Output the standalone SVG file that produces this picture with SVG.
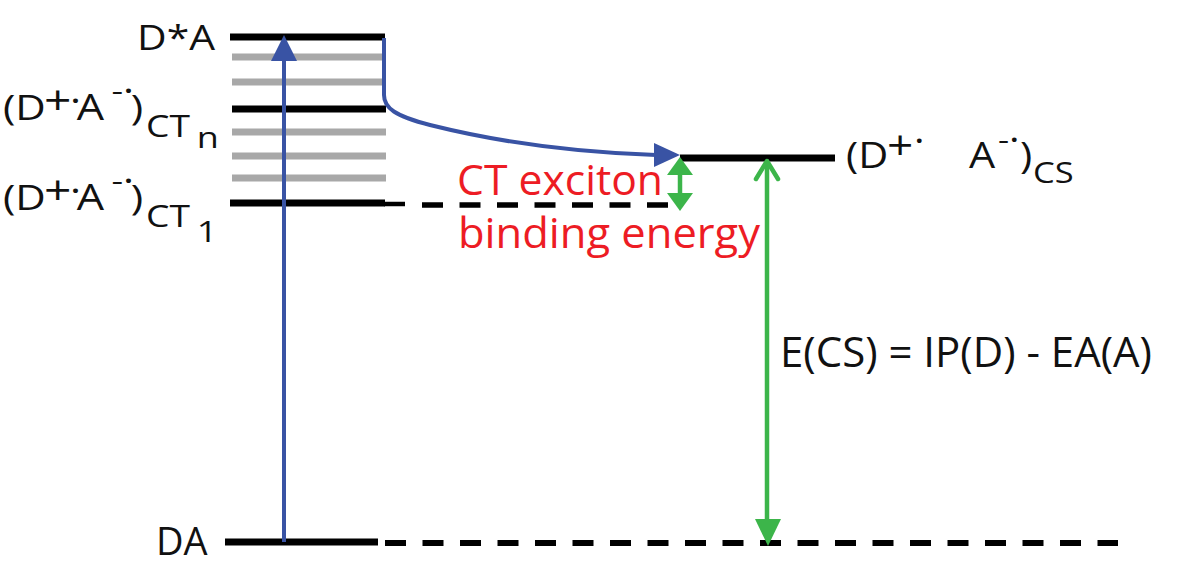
<svg xmlns="http://www.w3.org/2000/svg" width="1178" height="563" viewBox="0 0 1178 563">
<style>
text{font-family:"Open Sans","Liberation Sans",sans-serif;fill:#111}
.lvl{stroke:#000;stroke-width:7;fill:none}
.gry{stroke:#a8a8a8;stroke-width:7;fill:none}
.dash{stroke:#000;stroke-width:6;fill:none;stroke-dasharray:21 16.5}
.blue{stroke:#3953a4;stroke-width:4;fill:none}
.green{stroke:#3cb54a;stroke-width:4.5;fill:none}
.red{fill:#ed1c24}
</style>
<rect width="1178" height="563" fill="#fff"/>
<g id="levels">
<line class="lvl" x1="230" y1="37" x2="385" y2="37"/>
<line class="gry" x1="232" y1="57" x2="386" y2="57"/>
<line class="gry" x1="232" y1="82" x2="386" y2="82"/>
<line class="lvl" x1="232" y1="109" x2="386" y2="109"/>
<line class="gry" x1="232" y1="132" x2="386" y2="132"/>
<line class="gry" x1="232" y1="156" x2="386" y2="156"/>
<line class="gry" x1="232" y1="178" x2="386" y2="178"/>
<line class="lvl" x1="230" y1="203" x2="385" y2="203"/>
<line stroke="#000" stroke-width="4.5" x1="384" y1="204" x2="405" y2="204"/>
<line class="lvl" x1="225" y1="542" x2="378" y2="542"/>
<line class="lvl" x1="680" y1="158" x2="835" y2="158"/>
</g>
<g id="node-DstarA"><text x="137" y="50" font-size="35" textLength="78" lengthAdjust="spacingAndGlyphs">D*A</text></g>
<g id="node-CTn" transform="scale(1.2,1)">
<text font-size="35"><tspan x="2.5" y="120">(D</tspan><tspan x="36.7" y="115" font-size="40">+</tspan><tspan x="58.3" y="113">·</tspan><tspan x="64" y="120" font-size="36">A</tspan><tspan x="93" y="101" font-size="30">-</tspan><tspan x="102.5" y="103">·</tspan><tspan x="109" y="120">)</tspan></text>
<text font-size="31"><tspan x="121.7" y="137">CT</tspan><tspan x="164" y="148" font-size="30">n</tspan></text>
</g>
<g id="node-CT1" transform="scale(1.2,1)">
<text font-size="35"><tspan x="2.5" y="210">(D</tspan><tspan x="36.7" y="205" font-size="40">+</tspan><tspan x="58.3" y="203">·</tspan><tspan x="64" y="210" font-size="36">A</tspan><tspan x="93" y="191" font-size="30">-</tspan><tspan x="102.5" y="193">·</tspan><tspan x="109" y="210">)</tspan></text>
<text font-size="31"><tspan x="121.7" y="227">CT</tspan><tspan x="164" y="242" font-size="30">1</tspan></text>
</g>
<g id="node-CS" transform="scale(1.15,1)">
<text font-size="36"><tspan x="735.7" y="168">(D</tspan><tspan x="771.3" y="160" font-size="40">+</tspan><tspan x="794.8" y="153" font-size="35">·</tspan><tspan x="842.6" y="168">A</tspan><tspan x="867.8" y="150" font-size="30">-</tspan><tspan x="877.4" y="152" font-size="35">·</tspan><tspan x="887" y="168">)</tspan><tspan x="898.3" y="183" font-size="30">CS</tspan></text>
</g>
<g id="node-DA"><text x="156" y="555" font-size="38">DA</text></g>
<g id="label-binding">
<text class="red" x="457" y="195" font-size="42" textLength="206" lengthAdjust="spacingAndGlyphs">CT exciton</text>
<text class="red" x="458" y="248" font-size="42" textLength="302" lengthAdjust="spacingAndGlyphs">binding energy</text>
</g>
<g id="label-ECS"><text x="780" y="367" font-size="42" textLength="372" lengthAdjust="spacingAndGlyphs">E(CS) = IP(D) - EA(A)</text></g>
<g id="connectors">
<path class="dash" d="M422,205 H668" style="stroke-width:5.5"/>
<path class="dash" d="M385,543 H1118"/>
<line class="blue" x1="284" y1="542" x2="284" y2="58"/>
<polygon fill="#3953a4" points="284,35 297,61 271,61"/>
<path class="blue" d="M384,38 V95 C384,108 395,116 430,125 C490,140 560,152 656,155"/>
<polygon fill="#3953a4" points="680,155 654,143 654,167"/>
<line class="green" x1="680" y1="172" x2="680" y2="196"/>
<polygon fill="#3cb54a" points="680,157 693,175 667,175"/>
<polygon fill="#3cb54a" points="680,211 693,193 667,193"/>
<line class="green" x1="767" y1="161" x2="767" y2="522"/>
<polyline class="green" points="756,179 767,161 778,179" stroke-linecap="round" stroke-linejoin="round"/>
<polygon fill="#3cb54a" points="768,546 781,519 755,519"/>
</g>
</svg>
